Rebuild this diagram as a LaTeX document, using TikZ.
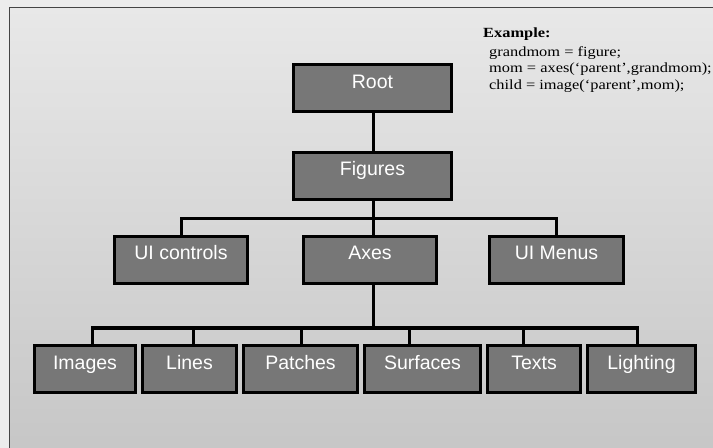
\documentclass[tikz,border=0pt]{standalone}
\usepackage{fontspec}
\setmainfont{Liberation Serif}
\newfontfamily\codefont[FakeStretch=1.17]{Liberation Serif}
\newfontfamily\boxfont{Liberation Sans}
\definecolor{outerbg}{HTML}{ECECEC}
\definecolor{bgtop}{HTML}{E8E8E8}
\definecolor{bgbot}{HTML}{C6C6C6}
\definecolor{framec}{HTML}{444444}
\definecolor{boxfill}{HTML}{777777}
\tikzset{
  hbox/.style={draw=black, line width=3bp, fill=boxfill, text=white,
    font=\boxfont\fontsize{19.5bp}{22bp}\selectfont, inner sep=0pt,
    text height=0pt, text depth=0pt, minimum height=47bp},
  conn/.style={draw=black, line width=3bp},
  codetxt/.style={anchor=base west, inner sep=0pt, font=\codefont\fontsize{14bp}{16bp}\selectfont}
}
\begin{document}
\begin{tikzpicture}[x=1bp,y=-1bp]
\useasboundingbox (0,0) rectangle (713,448);
\fill[outerbg] (0,0) rectangle (713,448);
\shade[top color=bgtop, bottom color=bgbot] (9.5,7.5) rectangle (720,455);
\draw[framec, line width=1.4bp] (9.5,455) -- (9.5,7.5) -- (720,7.5);

% level 0,1
\node[hbox, minimum width=158bp] (root) at (372.5,88.5) {Root};
\node[hbox, minimum width=158bp] (fig) at (372.5,176) {Figures};
% level 2
\node[hbox, minimum width=133bp] (uic) at (181,260) {UI controls};
\node[hbox, minimum width=133bp] (axes) at (370,260) {Axes};
\node[hbox, minimum width=134bp] (uim) at (556.5,260) {UI Menus};
% level 3
\node[hbox, minimum width=101bp] (img) at (85,369) {Images};
\node[hbox, minimum width=94bp] (lin) at (189.5,369) {Lines};
\node[hbox, minimum width=114bp] (pat) at (300.5,369) {Patches};
\node[hbox, minimum width=116bp] (sur) at (422.5,369) {Surfaces};
\node[hbox, minimum width=93bp] (txt) at (534,369) {Texts};
\node[hbox, minimum width=108bp] (lig) at (641.5,369) {Lighting};

% branch coordinates
\coordinate (b1) at (373,219);
\coordinate (b2) at (373,328);
\coordinate (pimg) at (92,0);
\coordinate (plin) at (193,0);
\coordinate (ppat) at (301,0);
\coordinate (psur) at (409,0);
\coordinate (ptxt) at (523,0);
\coordinate (plig) at (637,0);

\draw[conn] (root.south -| b1) -- (fig.north -| b1);
\draw[conn] (fig.south -| b1) -- (b1);
\draw[conn] (uic.north) |- (b1) -| (uim.north);
\draw[conn] (b1) -- (axes.north -| b1);
\draw[conn] (axes.south -| b2) -- (b2);
\draw[conn] (img.north -| pimg) |- (b2) -| (lig.north -| plig);
\draw[conn] (lin.north -| plin) -- (b2 -| plin);
\draw[conn] (pat.north -| ppat) -- (b2 -| ppat);
\draw[conn] (sur.north -| psur) -- (b2 -| psur);
\draw[conn] (txt.north -| ptxt) -- (b2 -| ptxt);

% example text
\node[codetxt, font=\codefont\bfseries\fontsize{14bp}{16bp}\selectfont] (ex) at (483,38) {Example:};
\node[codetxt] (c1) at (489,56.5) {grandmom = figure;};
\node[codetxt] (c2) at (489,73) {mom = axes(‘parent’,grandmom);};
\node[codetxt] (c3) at (489,89.3) {child = image(‘parent’,mom);};
\end{tikzpicture}
\end{document}
